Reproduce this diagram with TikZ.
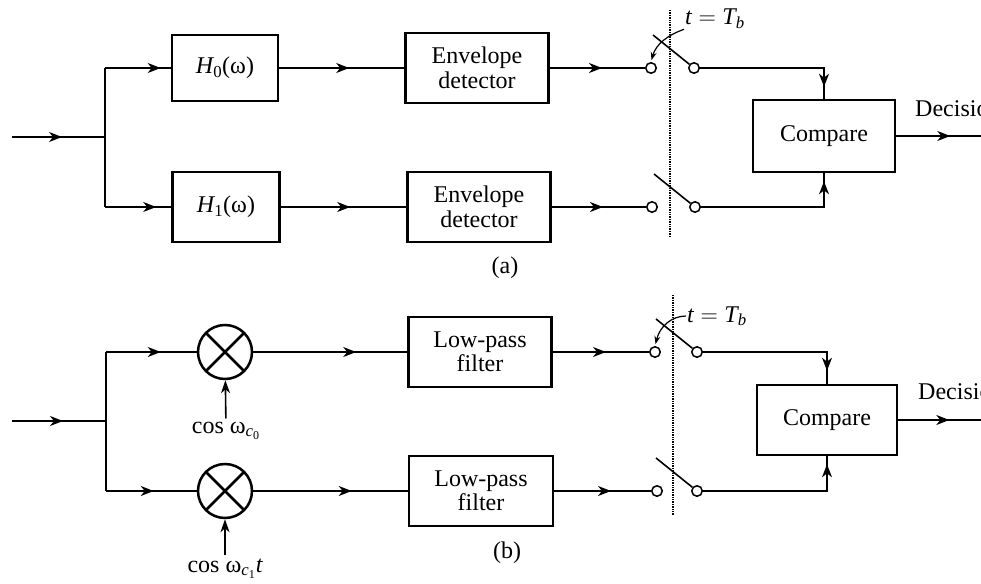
\documentclass[tikz,border=0pt]{standalone}
\usepackage{fix-cm}
\usepackage{fontspec}
\setmainfont{Liberation Serif}
\usetikzlibrary{arrows.meta,decorations.markings}
\begin{document}
\begin{tikzpicture}[x=1pt,y=-1pt,
  font=\fontsize{24}{24.5}\selectfont,
  wire/.style={line width=1.6pt},
  arr/.style={wire,postaction={decorate,decoration={markings,mark=at position #1 with {\arrow{Stealth[length=13pt,width=10pt,inset=4pt]}}}}},
  blk/.style={draw,line width=2.6pt,minimum height=70pt,inner sep=0pt,align=center},
  contact/.style={circle,draw,line width=1.5pt,minimum size=10.5pt,inner sep=0pt,fill=white},
  mult/.style={circle,draw,line width=2.5pt,minimum size=54pt,inner sep=0pt,
    path picture={\draw[line width=2.5pt] (path picture bounding box.north west) -- (path picture bounding box.south east)
      (path picture bounding box.north east) -- (path picture bounding box.south west);}},
  sampler/.style={densely dotted,line width=1.4pt},
  blade/.style={line width=1.6pt},
  hook/.style={line width=1.2pt,-{Stealth[length=8pt,width=6pt]},shorten >=2pt,shorten <=1pt},
  uparr/.style={wire,-{Stealth[length=13pt,width=9pt,inset=4pt]},shorten <=3pt},
  lbl/.style={inner sep=0pt}
]
\useasboundingbox (0,0) rectangle (981,583);
\clip (0,0) rectangle (981,583);

% ---------------- (a) ----------------
\node[blk,minimum width=106pt,minimum height=66pt] (h0) at (225,68) {$\mathit{H}_{\mathrm{0}}$(ω)};
\node[blk,minimum width=107pt,minimum height=70pt] (h1) at (226,207) {$\mathit{H}_{\mathrm{1}}$(ω)};
\node[blk,minimum width=143pt] (e0) at (477,68) {Envelope\\detector};
\node[blk,minimum width=143pt] (e1) at (479,207) {Envelope\\detector};
\node[contact] (a0L) at (651,68) {};
\node[contact] (a0R) at (694,68) {};
\node[contact] (a1L) at (652,207) {};
\node[contact] (a1R) at (695,207) {};
\node[blk,minimum width=142pt,minimum height=72pt] (cA) at (824,136) {Compare};

\coordinate (inA) at (12,137);
\coordinate (jA) at (105,137);
\coordinate (jA0) at (105,68);
\coordinate (jA1) at (105,207);
\draw[arr=-43pt] (inA) -- (jA);
\draw[wire] (jA0) -- (jA1);
\draw[arr=-10pt] (jA0) -- (h0);
\draw[arr=-15pt] (jA1) -- (h1);
\draw[arr=-55pt] (h0) -- (e0);
\draw[arr=-56pt] (h1) -- (e1);
\draw[arr=-43pt] (e0) -- (a0L);
\draw[arr=-43pt] (e1) -- (a1L);

\coordinate (sA0) at (653,35);
\coordinate (sA1) at (654,174);
\draw[blade] (sA0) -- (a0R);
\draw[blade] (sA1) -- (a1R);
\coordinate (dA0) at (670,10);
\coordinate (dA1) at (670,237);
\draw[sampler] (dA0) -- (dA1);
\node[lbl,anchor=base west] (tA) at (685,25) {$\mathit{t} = \mathit{T}_{\mathit{b}}$};
\draw[hook] (tA.south west) .. controls (668,35) and (656,44) .. (a0L.north);

\draw[arr=-12pt] (a0R) -| (cA.north);
\draw[arr=-8pt] (a1R) -| (cA.south);
\coordinate (oA) at (990,136);
\draw[arr=54pt] (cA) -- (oA);
\node[lbl,anchor=base west] (decA) at (915,117) {Decision};
\node (labA) at (505,268) {(a)};

% ---------------- (b) ----------------
\node[mult] (m0) at (225,352) {};
\node[mult] (m1) at (225,491) {};
\node[blk,minimum width=143pt] (l0) at (480,352) {Low-pass\\filter};
\node[blk,minimum width=144pt] (l1) at (481,491) {Low-pass\\filter};
\node[contact] (b0L) at (655,352) {};
\node[contact] (b0R) at (697,352) {};
\node[contact] (b1L) at (657,491) {};
\node[contact] (b1R) at (697,491) {};
\node[blk,minimum width=140pt,minimum height=70pt] (cB) at (827,420) {Compare};

\coordinate (inB) at (12,421);
\coordinate (jB) at (106,421);
\coordinate (jB0) at (106,352);
\coordinate (jB1) at (106,491);
\draw[arr=-43pt] (inB) -- (jB);
\draw[wire] (jB0) -- (jB1);
\draw[arr=-36pt] (jB0) -- (m0);
\draw[arr=-43pt] (jB1) -- (m1);
\draw[arr=-51pt] (m0) -- (l0);
\draw[arr=-56pt] (m1) -- (l1);
\draw[arr=-43pt] (l0) -- (b0L);
\draw[arr=-40pt] (l1) -- (b1L);

\node[lbl,anchor=base] (k0) at (226,433) {cos ω$_{\mathit{c}_{\mathrm{0}}}$};
\node[lbl,anchor=base] (k1) at (225,572) {cos ω$_{\mathit{c}_{\mathrm{1}}}\mathit{t}$};
\draw[uparr] (k0) -- (m0);
\draw[uparr] (k1) -- (m1);

\coordinate (sB0) at (656,319);
\coordinate (sB1) at (656,458);
\draw[blade] (sB0) -- (b0R);
\draw[blade] (sB1) -- (b1R);
\coordinate (dB0) at (673,295);
\coordinate (dB1) at (673,515);
\draw[sampler] (dB0) -- (dB1);
\node[lbl,anchor=base west] (tB) at (687,322) {$\mathit{t} = \mathit{T}_{\mathit{b}}$};
\draw[hook] (tB.west) .. controls (672,316) and (660,326) .. (b0L.north);

\draw[arr=-13pt] (b0R) -| (cB.north);
\draw[arr=-8pt] (b1R) -| (cB.south);
\coordinate (oB) at (990,420);
\draw[arr=51pt] (cB) -- (oB);
\node[lbl,anchor=base west] (decB) at (918,399) {Decision};
\node (labB) at (507,553) {(b)};
\end{tikzpicture}
\end{document}
